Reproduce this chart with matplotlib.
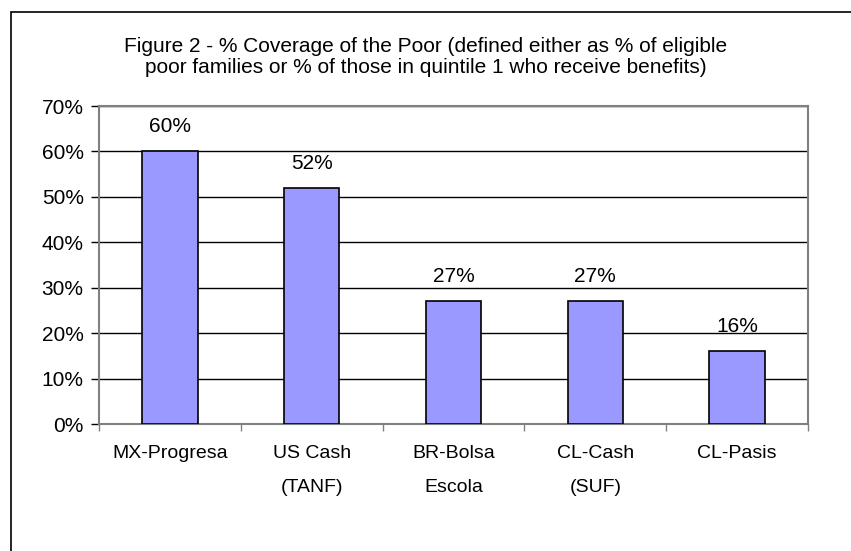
import matplotlib
matplotlib.use("Agg")
import matplotlib.pyplot as plt
from matplotlib.patches import Rectangle
import numpy as np

categories = ["MX-Progresa", "US Cash\n(TANF)", "BR-Bolsa\nEscola", "CL-Cash\n(SUF)", "CL-Pasis"]
coverage = [60, 52, 27, 27, 16]
y_ticks = [0, 10, 20, 30, 40, 50, 60, 70]
title = ("Figure 2 - % Coverage of the Poor (defined either as % of eligible\n"
         "poor families or % of those in quintile 1 who receive benefits)")

plt.rcParams["font.family"] = ["Liberation Sans", "DejaVu Sans"]

W, H = 851, 551
fig = plt.figure(figsize=(W / 100, H / 100), dpi=100, facecolor="white")

# outer chart frame (runs off the right/bottom of the image)
fig.patches.append(Rectangle((11 / W, -0.1), 2.0, 1 - 12 / H + 0.1,
                             transform=fig.transFigure, fill=False,
                             edgecolor="black", linewidth=1.2))

fig.text(0.5, 1 - 57 / H, title, ha="center", va="center", fontsize=15,
         linespacing=1.15)

left, right, top, bottom = 99, 808, 106, 424
ax = fig.add_axes([left / W, 1 - bottom / H, (right - left) / W, (bottom - top) / H])

x = np.arange(len(categories))
ax.bar(x, coverage, width=0.39, color="#9999FF", edgecolor="black", linewidth=1.2, zorder=3)
for xi, v in zip(x, coverage):
    ax.text(xi, v + 5.4, f"{v}%", ha="center", va="center", fontsize=15)

ax.set_xlim(-0.5, len(categories) - 0.5)
ax.set_ylim(0, 70)
ax.set_yticks(y_ticks)
ax.set_yticklabels([f"{t}%" for t in y_ticks], fontsize=15)
ax.yaxis.grid(True, color="black", linewidth=1.0, zorder=0)
ax.set_axisbelow(True)

ax.set_xticks(x)
ax.set_xticklabels(categories, fontsize=14, linespacing=2.3, va="top")
ax.set_xticks(np.arange(len(categories) + 1) - 0.5, minor=True)
ax.tick_params(axis="x", which="major", length=0, pad=15)
ax.tick_params(axis="x", which="minor", length=5, color="#808080", width=1)
ax.tick_params(axis="y", length=6, color="black", width=1, pad=5)

for s in ax.spines.values():
    s.set_color("#808080")
    s.set_linewidth(1.5)

fig.savefig("out.png", dpi=100, facecolor="white")
